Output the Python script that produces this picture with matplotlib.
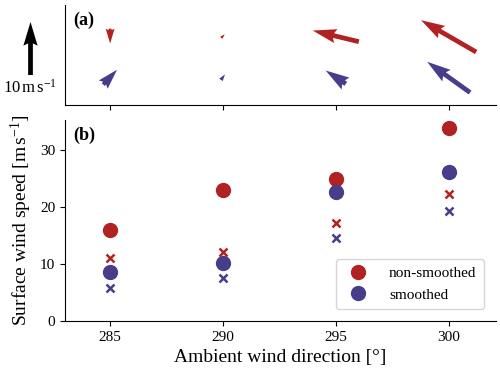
import numpy as np
import matplotlib
matplotlib.use("Agg")
import matplotlib.pyplot as plt

plt.rcParams['font.family'] = ['Liberation Serif', 'DejaVu Serif']
plt.rcParams['mathtext.fontset'] = 'custom'
plt.rcParams['mathtext.rm'] = 'Liberation Serif'
plt.rcParams['mathtext.it'] = 'Liberation Serif:italic'
plt.rcParams['mathtext.bf'] = 'Liberation Serif:bold'

# ambient wind direction (deg)
direction = [285, 290, 295, 300]

# panel (b): surface wind speed (m/s)
nonsmooth_dot = [15.9, 23.0, 24.9, 33.7]
smooth_dot = [8.5, 10.1, 22.5, 26.1]
nonsmooth_x = [11.0, 12.0, 17.1, 22.3]
smooth_x = [5.8, 7.5, 14.5, 19.2]

# panel (a): wind vectors (m/s)
nonsmooth_u = [0.0, 0.7, -8.7, -10.4]
nonsmooth_v = [-2.8, 0.7, 2.1, 6.0]
smooth_u = [2.6, 0.8, -3.8, -8.1]
smooth_v = [2.8, 1.1, 2.5, 5.8]

red = 'firebrick'
blue = 'darkslateblue'

fig = plt.figure(figsize=(5, 3.78), dpi=100)
ax1 = fig.add_axes([0.13, 0.722, 0.862, 0.265])
ax2 = fig.add_axes([0.13, 0.151, 0.862, 0.532], sharex=ax1)

for ax in (ax1, ax2):
    ax.spines['top'].set_visible(False)
    ax.spines['right'].set_visible(False)
    ax.tick_params(labelsize=11)

# (a) quiver
px_per_ms = 5.3
q = ax1.quiver(direction, [1] * 4, nonsmooth_u, nonsmooth_v, color=red,
               pivot='middle', scale_units='dots', scale=1 / px_per_ms,
               width=0.011)
ax1.quiver(direction, [0] * 4, smooth_u, smooth_v, color=blue,
           pivot='middle', scale_units='dots', scale=1 / px_per_ms,
           width=0.011)
qk = ax1.quiverkey(q, 0.06, 0.872, 10, r'$10\,\mathrm{m\,s^{-1}}$',
                   coordinates='figure', angle=90, labelpos='S',
                   color='black', labelsep=0.3, fontproperties={'size': 12})
ax1.set_ylim(-0.68, 1.76)
ax1.set_yticks([])
ax1.tick_params(labelbottom=False)
ax1.text(0.018, 0.93, '(a)', transform=ax1.transAxes, fontsize=13,
         fontweight='bold', va='top')

# (b) speeds
ax2.plot(direction, nonsmooth_dot, 'o', color=red, ms=10, label='non-smoothed')
ax2.plot(direction, smooth_dot, 'o', color=blue, ms=10, label='smoothed')
ax2.plot(direction, nonsmooth_x, 'x', color=red, ms=6, mew=1.8)
ax2.plot(direction, smooth_x, 'x', color=blue, ms=6, mew=1.8)
ax2.set_xlim(283, 302.1)
ax2.set_ylim(0, 35.2)
ax2.set_xticks(direction)
ax2.set_yticks([0, 10, 20, 30])
ax2.set_xlabel('Ambient wind direction [°]', fontsize=14)
ax2.set_ylabel(r'Surface wind speed [$\mathrm{m\,s^{-1}}$]', fontsize=14)
ax2.text(0.018, 0.965, '(b)', transform=ax2.transAxes, fontsize=13,
         fontweight='bold', va='top')
ax2.legend(loc='lower right', fontsize=11, handletextpad=1.0,
           borderpad=0.5, framealpha=0.8, bbox_to_anchor=(0.99, 0.02))

fig.savefig('out.png', dpi=100)
